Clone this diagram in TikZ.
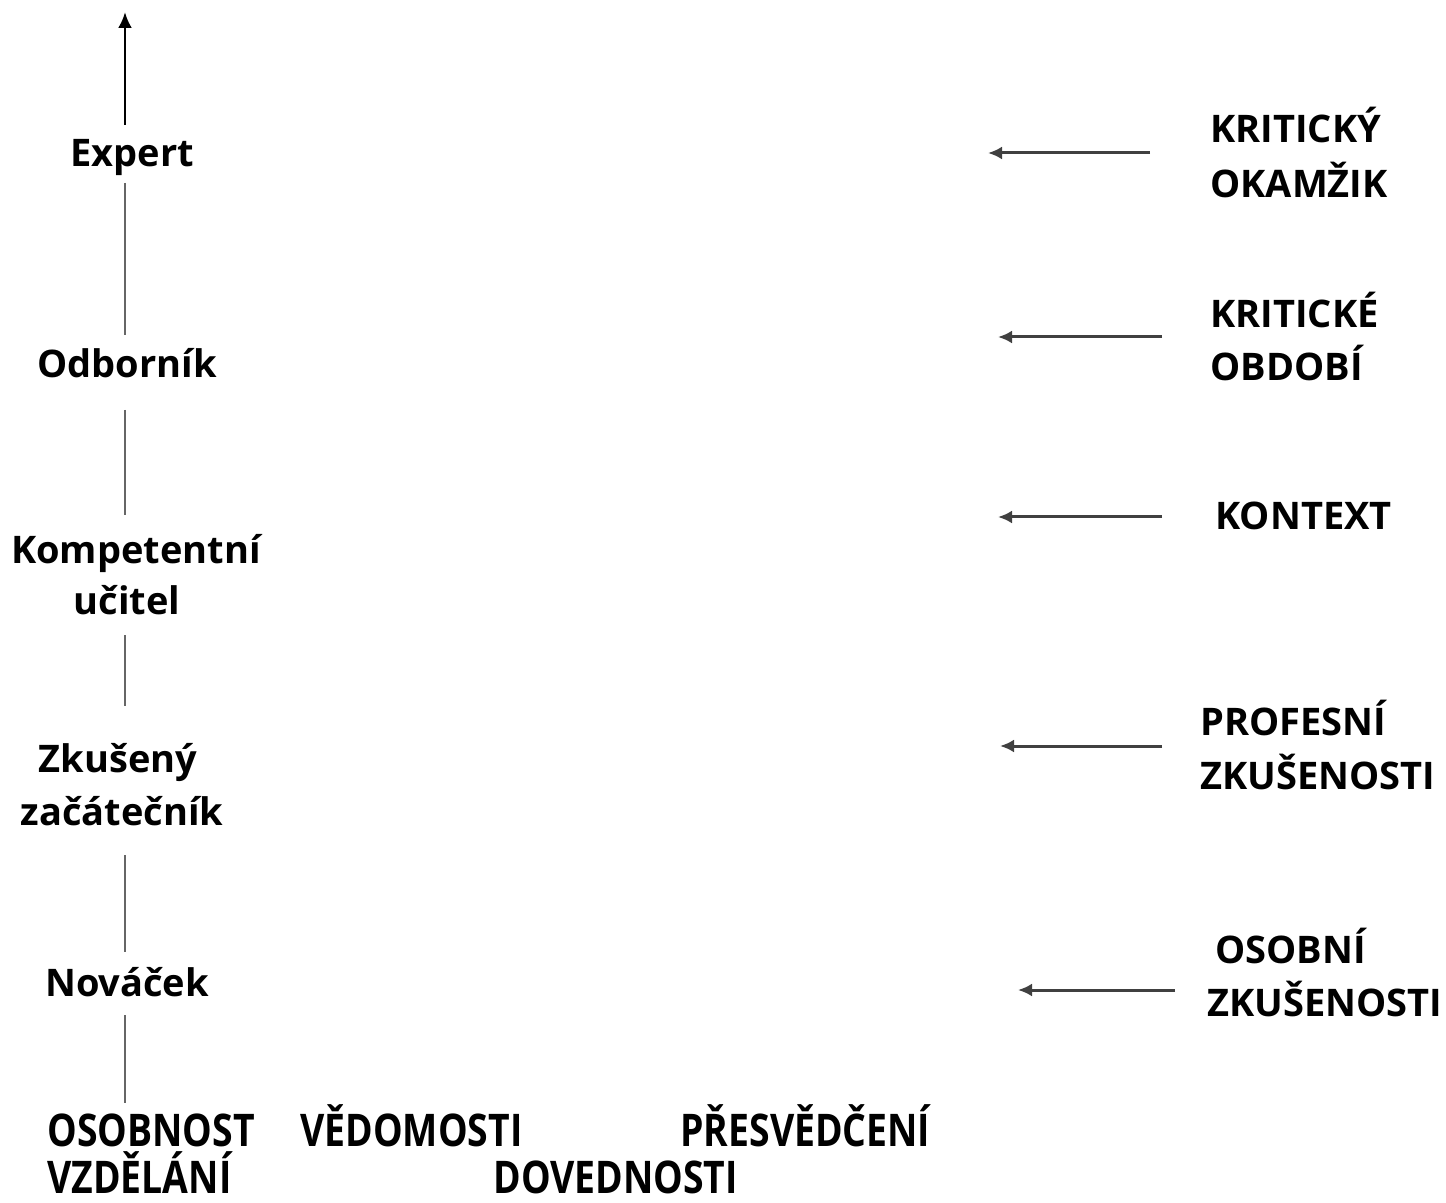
\documentclass[tikz,border=0pt]{standalone}
\usepackage{fontspec}
\usepackage{graphicx}
\setmainfont{Open Sans}[BoldFont={* Bold}]
\usetikzlibrary{arrows.meta}
\begin{document}
\begin{tikzpicture}[x=0.5pt,y=-0.5pt,
  lvl/.style={anchor=base,inner sep=0pt,font=\fontsize{19pt}{23pt}\selectfont\bfseries},
  fac/.style={anchor=base west,inner sep=0pt,font=\fontsize{19pt}{23pt}\selectfont\bfseries},
  base/.style={anchor=base west,inner sep=0pt,font=\fontsize{22.5pt}{27pt}\selectfont\bfseries},
  axis/.style={draw=black!60,line width=1pt},
  inarrow/.style={draw=black!75,line width=1.5pt,-{Latex[length=7pt,width=6.5pt]}},
  uparrow/.style={draw=black,line width=1.4pt,-{Latex[length=8pt,width=7pt]}}]
\fill[white] (0,0) rectangle (1446,1203);
\useasboundingbox (0,0) rectangle (1446,1203);

% levels
\node[lvl] (exp) at (132,167) {Expert};
\node[lvl] (odb) at (127,378) {Odborník};
\node[lvl] (komp1) at (136,563) {Kompetentní};
\node[lvl] (komp2) at (127,614) {učitel};
\node[lvl] (zk1) at (118,772) {Zkušený};
\node[lvl] (zk2) at (122,825) {začátečník};
\node[lvl] (nov) at (127,996) {Nováček};

% axis coordinates
\coordinate (a0) at (125,12);
\coordinate (a1) at (125,125);
\coordinate (a2) at (125,183);
\coordinate (a3) at (125,335);
\coordinate (a4) at (125,410);
\coordinate (a5) at (125,515);
\coordinate (a6) at (125,635);
\coordinate (a7) at (125,706);
\coordinate (a8) at (125,855);
\coordinate (a9) at (125,952);
\coordinate (a10) at (125,1015);
\coordinate (a11) at (125,1103);
\draw[uparrow] (a1) -- (a0);
\draw[axis] (a2) -- (a3);
\draw[axis] (a4) -- (a5);
\draw[axis] (a6) -- (a7);
\draw[axis] (a8) -- (a9);
\draw[axis] (a10) -- (a11);

% factors
\node[fac] (f1a) at (1210,143) {KRITICKÝ};
\node[fac] (f1b) at (1210,198) {OKAMŽIK};
\node[fac] (f2a) at (1210,328) {KRITICKÉ};
\node[fac] (f2b) at (1210,381) {OBDOBÍ};
\node[fac] (f3) at (1215,530) {KONTEXT};
\node[fac] (f4a) at (1200,735) {PROFESNÍ};
\node[fac] (f4b) at (1200,789) {ZKUŠENOSTI};
\node[fac] (f5a) at (1215,963) {OSOBNÍ};
\node[fac] (f5b) at (1207,1016) {ZKUŠENOSTI};

\coordinate (s1) at (1150,153); \coordinate (e1) at (988,153);
\coordinate (s2) at (1162,337); \coordinate (e2) at (998,337);
\coordinate (s3) at (1162,517); \coordinate (e3) at (998,517);
\coordinate (s4) at (1162,746); \coordinate (e4) at (1000,746);
\coordinate (s5) at (1175,990); \coordinate (e5) at (1018,990);
\draw[inarrow] (s1) -- (e1);
\draw[inarrow] (s2) -- (e2);
\draw[inarrow] (s3) -- (e3);
\draw[inarrow] (s4) -- (e4);
\draw[inarrow] (s5) -- (e5);

% base
\node[base] (b1) at (47,1146) {\scalebox{0.83}[1]{OSOBNOST}};
\node[base] (b2) at (300,1146) {\scalebox{0.83}[1]{VĚDOMOSTI}};
\node[base] (b3) at (680,1146) {\scalebox{0.83}[1]{PŘESVĚDČENÍ}};
\node[base] (b4) at (47,1193) {\scalebox{0.83}[1]{VZDĚLÁNÍ}};
\node[base] (b5) at (493,1193) {\scalebox{0.83}[1]{DOVEDNOSTI}};
\end{tikzpicture}
\end{document}
